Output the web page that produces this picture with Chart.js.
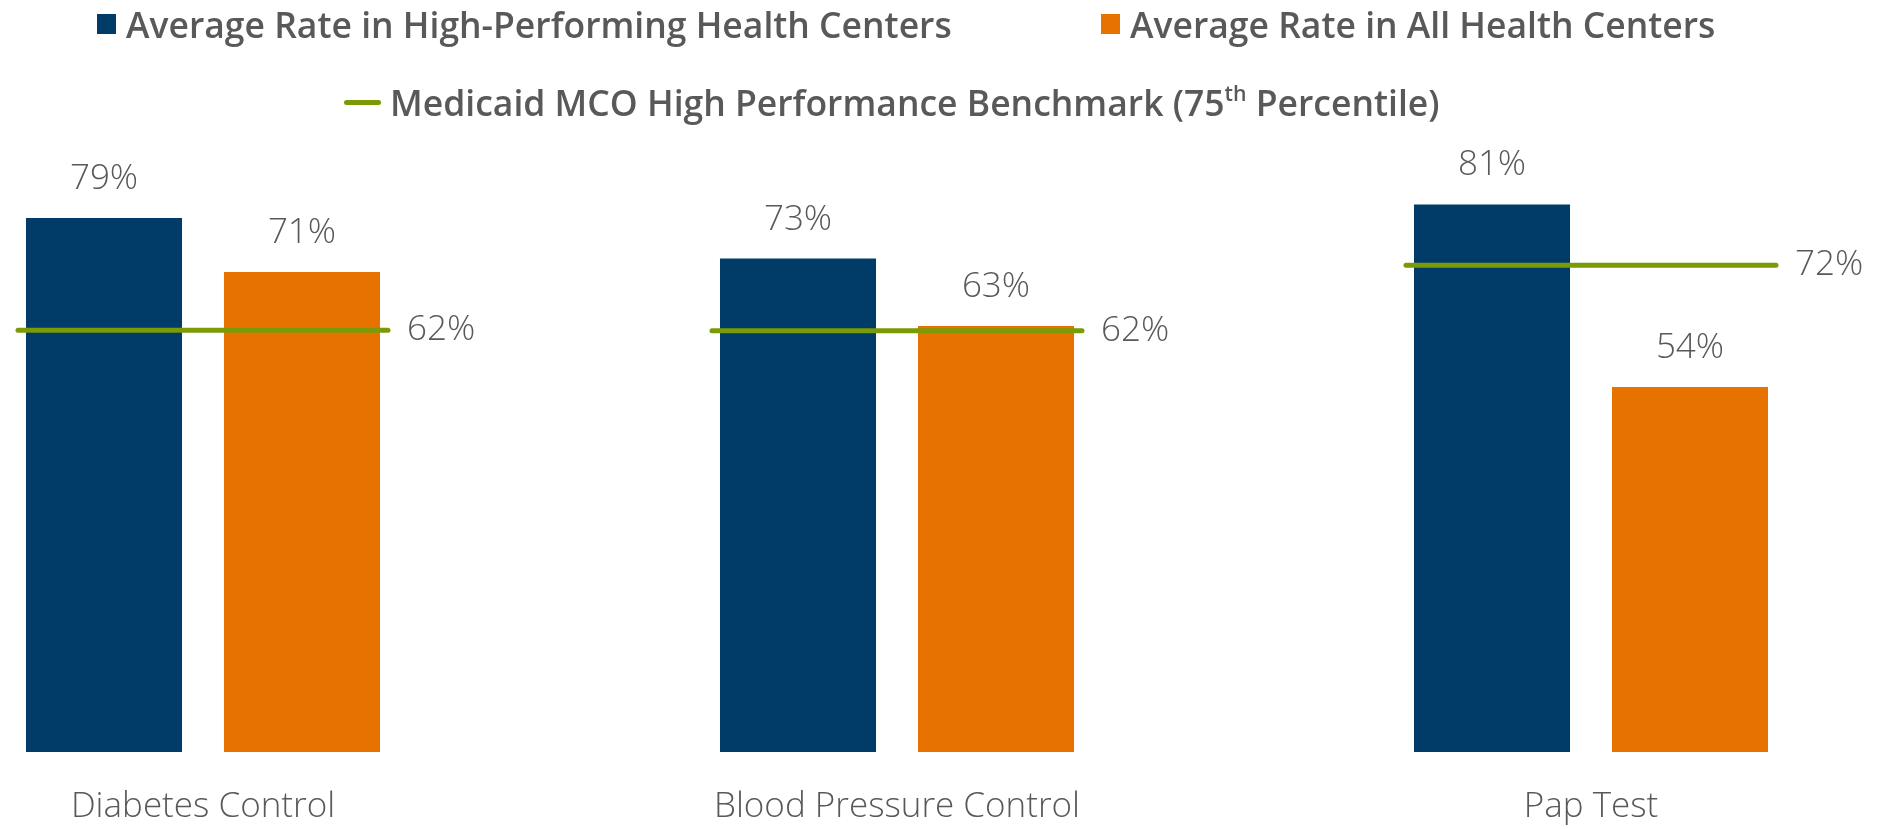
<!DOCTYPE html>
<html lang="en">
<head>
  <meta charset="UTF-8">
  <title>Health Center Quality Rates</title>
  <script src="https://cdn.jsdelivr.net/npm/chart.js"></script>
  <style>
    body { margin: 0; background: #fff; font-family: "Open Sans", sans-serif; }
    .wrap { position: relative; width: 1880px; height: 829px; }
    canvas { position: absolute; left: 0; top: 0; }
    .legend-item { position: absolute; height: 40px; line-height: 40px; display: flex; align-items: center; color: #595959; font-weight: 600; font-size: 35.5px; white-space: nowrap; }
    .swatch { width: 19px; height: 20px; margin-right: 10px; }
    .swatch.line { width: 37px; height: 5px; border-radius: 3px; margin-right: 9px; }
    sup { font-size: 0.6em; line-height: 0; vertical-align: 0.7em; }
  </style>
</head>
<body>
<div class="wrap">
  <canvas id="chart" width="1880" height="829"></canvas>
  <div id="legend"></div>
</div>
<script>
const categories = ['Diabetes Control', 'Blood Pressure Control', 'Pap Test'];
const highPerforming = [79, 73, 81];
const allCenters = [71, 63, 54];
const benchmark = [62.4, 62.3, 72];
const seriesNames = [
  'Average Rate in High-Performing Health Centers',
  'Average Rate in All Health Centers',
  'Medicaid MCO High Performance Benchmark (75th Percentile)'
];
const colors = ['#013C69', '#E87200', '#7A9B05'];
const textGray = '#595959';

// legend, laid out like the original (two items on top, benchmark below)
const legendSpots = [
  { left: 97, top: 4, line: false },
  { left: 1101, top: 4, line: false },
  { left: 344, top: 82, line: true }
];
const legendEl = document.getElementById('legend');
seriesNames.forEach((name, i) => {
  const item = document.createElement('div');
  item.className = 'legend-item';
  item.style.left = legendSpots[i].left + 'px';
  item.style.top = legendSpots[i].top + 'px';
  const sw = document.createElement('span');
  sw.className = 'swatch' + (legendSpots[i].line ? ' line' : '');
  sw.style.background = colors[i];
  const txt = document.createElement('span');
  txt.innerHTML = name.replace('75th', '75<sup>th</sup>');
  item.appendChild(sw);
  item.appendChild(txt);
  legendEl.appendChild(item);
});

const valueLabels = {
  id: 'valueLabels',
  afterDatasetsDraw(chart) {
    const ctx = chart.ctx;
    ctx.save();
    ctx.fillStyle = textGray;
    ctx.font = '300 35px "Open Sans"';
    chart.data.datasets.forEach((ds, i) => {
      const meta = chart.getDatasetMeta(i);
      meta.data.forEach((el, j) => {
        const text = Math.round(ds.data[j]) + '%';
        if (ds.type === 'line') {
          ctx.textAlign = 'left';
          ctx.textBaseline = 'middle';
          ctx.fillText(text, el.x + ds.pointRadius + 19, el.y);
        } else {
          ctx.textAlign = 'center';
          ctx.textBaseline = 'alphabetic';
          ctx.fillText(text, el.x, el.y - 29);
        }
      });
    });
    ctx.restore();
  }
};

const roundCaps = {
  id: 'roundCaps',
  beforeDatasetDraw(chart, args) {
    if (args.meta.type === 'line') chart.ctx.lineCap = 'round';
  },
  afterDatasetDraw(chart) {
    chart.ctx.lineCap = 'butt';
  }
};

new Chart(document.getElementById('chart'), {
  type: 'bar',
  data: {
    labels: categories,
    datasets: [
      {
        type: 'line', label: seriesNames[2], data: benchmark,
        showLine: false, pointStyle: 'line', pointRadius: 185, pointHoverRadius: 185,
        pointBorderWidth: 5, borderColor: colors[2], pointBorderColor: colors[2],
        clip: false, order: 0
      },
      {
        label: seriesNames[0], data: highPerforming, backgroundColor: colors[0],
        categoryPercentage: 0.5706, barPercentage: 0.788, clip: false, order: 1
      },
      {
        label: seriesNames[1], data: allCenters, backgroundColor: colors[1],
        categoryPercentage: 0.5706, barPercentage: 0.788, clip: false, order: 1
      }
    ]
  },
  options: {
    responsive: false,
    devicePixelRatio: 1,
    animation: false,
    layout: { autoPadding: false, padding: { left: 203, right: 289, top: 76, bottom: 0 } },
    plugins: { legend: { display: false }, tooltip: { enabled: false } },
    scales: {
      x: {
        offset: false,
        grid: { display: false, drawTicks: false },
        border: { display: false },
        ticks: {
          color: textGray, padding: 34, maxRotation: 0, autoSkip: false,
          font: { family: 'Open Sans', size: 35, weight: 300 }
        },
        afterFit(scale) { scale.height = 77; }
      },
      y: { display: false, min: 0, max: 100 }
    }
  },
  plugins: [valueLabels, roundCaps]
});
</script>
</body>
</html>
